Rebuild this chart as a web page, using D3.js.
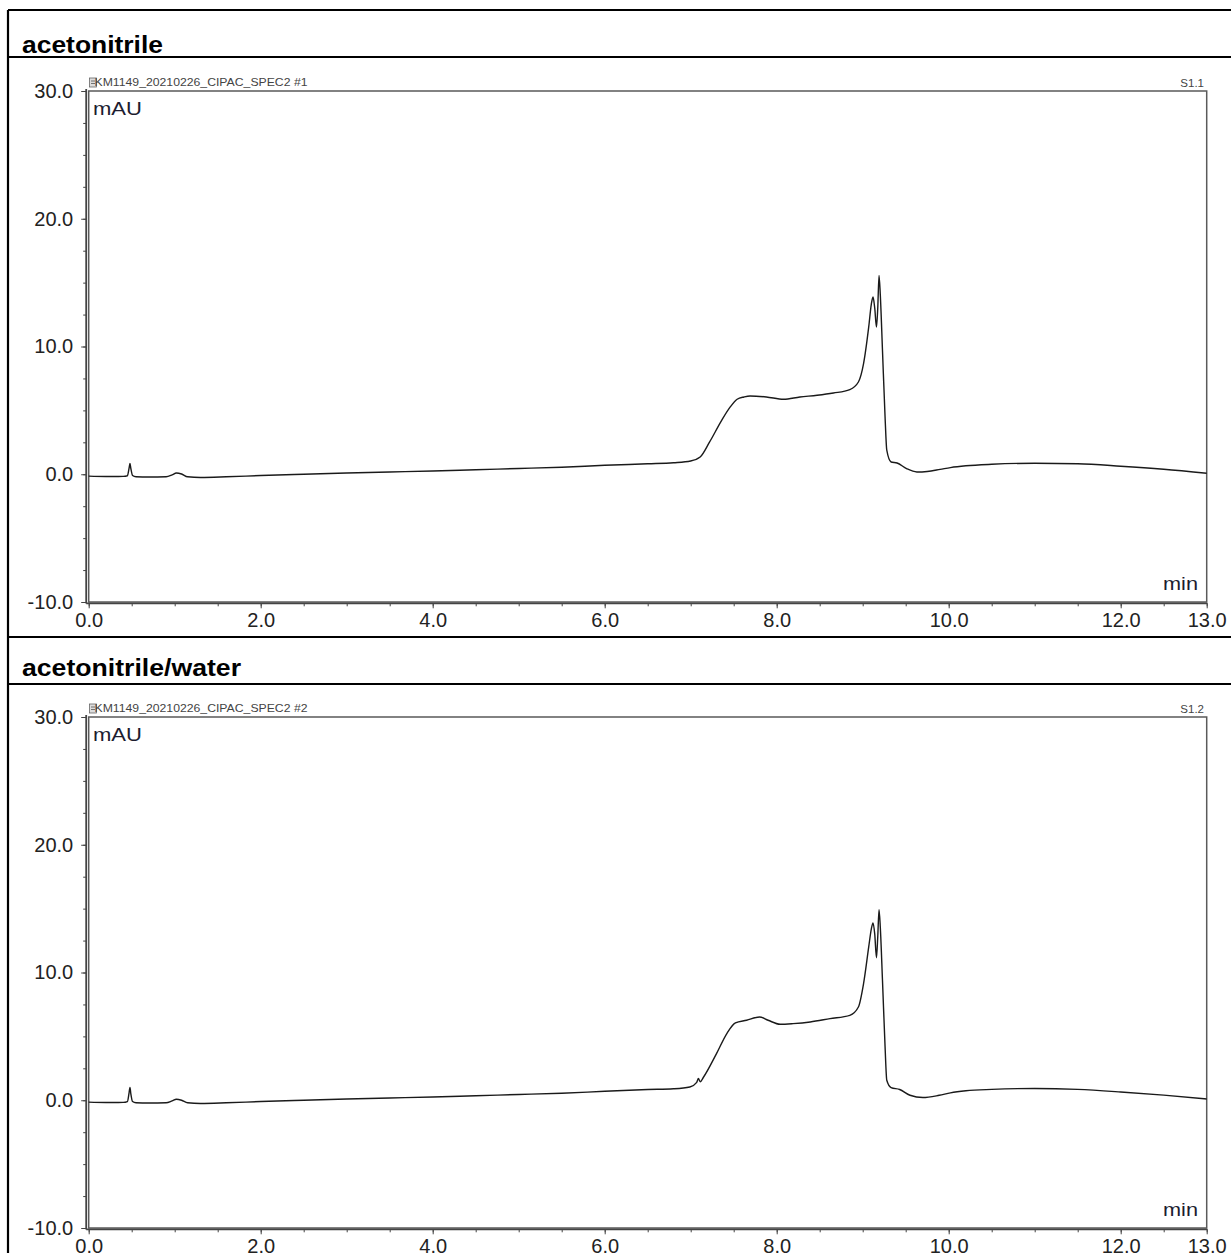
<!DOCTYPE html>
<html>
<head>
<meta charset="utf-8">
<script src="https://cdn.jsdelivr.net/npm/d3@7"></script>
<style>
  html, body { margin: 0; padding: 0; background: #fff; }
  svg { display: block; }
  text { font-family: Arial, "Liberation Sans", sans-serif; }
</style>
</head>
<body>
<svg id="chart" width="1231" height="1256"></svg>
<script>
// Panel titles and chromatogram identifiers
const panelTitles = ["acetonitrile", "acetonitrile/water"];
const runNames = ["KM1149_20210226_CIPAC_SPEC2 #1", "KM1149_20210226_CIPAC_SPEC2 #2"];
const sampleIds = ["S1.1", "S1.2"];

// Axis ticks
const xMajorTicks = [0, 2, 4, 6, 8, 10, 12, 13];
const xMinorTicks = d3.range(0, 13.01, 0.5);
const yMajorTicks = [-10, 0, 10, 20, 30];
const yMinorTicks = d3.range(-10, 30.01, 2.5);

// Trace 1: acetonitrile — [retention time (min), absorbance (mAU)]
const traceAcetonitrile = [
  [0.00,-0.15],[0.20,-0.18],[0.40,-0.17],[0.45,-0.12],[0.47,0.50],[0.48,0.84],[0.49,0.45],[0.51,-0.10],
  [0.55,-0.20],[0.70,-0.22],[0.90,-0.20],[0.97,-0.05],[1.02,0.10],[1.08,0.02],[1.15,-0.20],
  [1.30,-0.25],[1.60,-0.20],[2.00,-0.10],[2.50,0.00],[3.00,0.10],[3.50,0.18],[4.00,0.25],
  [4.50,0.35],[5.00,0.45],[5.50,0.55],[6.00,0.70],[6.50,0.82],[6.80,0.90],[7.00,1.04],
  [7.11,1.35],[7.22,2.53],[7.36,4.22],[7.46,5.27],[7.54,5.87],[7.62,6.05],[7.69,6.13],
  [7.88,6.05],[8.08,5.87],[8.27,6.05],[8.47,6.18],[8.66,6.36],[8.85,6.63],[8.95,7.22],
  [9.01,8.66],[9.07,11.53],[9.10,13.30],[9.12,13.87],[9.14,13.00],[9.16,11.53],[9.175,13.0],
  [9.19,15.57],[9.205,14.0],[9.23,9.70],[9.26,4.50],[9.28,1.88],[9.33,0.96],[9.40,0.88],
  [9.51,0.44],[9.63,0.18],[9.75,0.22],[9.90,0.38],[10.02,0.52],[10.20,0.66],[10.50,0.78],
  [11.00,0.86],[11.50,0.82],[12.00,0.63],[12.50,0.39],[13.00,0.08]
];

// Trace 2: acetonitrile/water
const traceAcetonitrileWater = [
  [0.00,-0.15],[0.20,-0.18],[0.40,-0.17],[0.45,-0.10],[0.47,0.60],[0.48,1.00],[0.49,0.50],[0.51,-0.10],
  [0.55,-0.20],[0.70,-0.22],[0.90,-0.20],[0.97,-0.05],[1.02,0.08],[1.08,0.00],[1.15,-0.20],
  [1.30,-0.25],[1.60,-0.20],[2.00,-0.10],[2.50,0.00],[3.00,0.10],[3.50,0.18],[4.00,0.25],
  [4.50,0.35],[5.00,0.45],[5.50,0.55],[6.00,0.70],[6.50,0.84],[6.80,0.90],[6.99,1.04],
  [7.07,1.40],[7.09,1.70],[7.11,1.45],[7.15,1.82],[7.30,3.65],[7.42,5.22],[7.52,6.05],
  [7.65,6.26],[7.80,6.52],[7.90,6.26],[8.04,5.95],[8.19,6.00],[8.39,6.13],[8.62,6.39],
  [8.85,6.65],[8.95,7.30],[9.01,9.13],[9.07,12.00],[9.10,13.40],[9.12,13.88],[9.14,13.00],
  [9.16,11.16],[9.175,12.8],[9.19,14.92],[9.205,13.5],[9.23,9.39],[9.26,4.20],[9.28,1.56],
  [9.33,0.99],[9.43,0.84],[9.55,0.39],[9.70,0.21],[9.89,0.39],[10.02,0.58],[10.20,0.74],
  [10.50,0.85],[11.00,0.92],[11.50,0.85],[12.00,0.65],[12.50,0.40],[13.00,0.10]
];

const traces = [traceAcetonitrile, traceAcetonitrileWater];

// Tick labels use a plain hyphen for negatives, one decimal place
const fmtTick = d => d.toFixed(1);

const svg = d3.select("#chart");

// Outer table frame
const frame = svg.append("g").attr("stroke", "#000").attr("stroke-width", 2.2);
frame.append("line").attr("x1", 8).attr("x2", 1240).attr("y1", 10).attr("y2", 10);
frame.append("line").attr("x1", 8).attr("x2", 8).attr("y1", 10).attr("y2", 1253);

const panels = [
  { titleLine: 57, titleBase: 52.5, sep: null, top: 91, bottom: 602 },
  { titleLine: 684, titleBase: 676, sep: 637, top: 717, bottom: 1228 }
];

const x0 = 88.7, x1 = 1206.7;

panels.forEach((p, i) => {
  if (p.sep !== null) {
    frame.append("line").attr("x1", 8).attr("x2", 1240).attr("y1", p.sep).attr("y2", p.sep);
  }
  frame.append("line").attr("x1", 8).attr("x2", 1240).attr("y1", p.titleLine).attr("y2", p.titleLine);

  svg.append("text")
    .attr("x", 22).attr("y", p.titleBase)
    .attr("font-size", 23).attr("font-weight", "bold").attr("fill", "#000")
    .attr("textLength", i === 0 ? 141 : 219).attr("lengthAdjust", "spacingAndGlyphs")
    .text(panelTitles[i]);

  const x = d3.scaleLinear().domain([0, 13]).range([x0, x1]);
  const y = d3.scaleLinear().domain([-10, 30]).range([p.bottom, p.top]);

  const g = svg.append("g");

  // Plot frame
  g.append("rect")
    .attr("x", x0).attr("y", p.top)
    .attr("width", x1 - x0).attr("height", p.bottom - p.top)
    .attr("fill", "none").attr("stroke", "#5a5a5a").attr("stroke-width", 1.5);

  // Y axis (offset slightly left of the frame)
  const yAxisX = 86.2;
  const yMinor = g.append("g").attr("transform", `translate(${yAxisX},0)`)
    .call(d3.axisLeft(y).tickValues(yMinorTicks).tickSize(3).tickFormat(""));
  const yMajor = g.append("g").attr("transform", `translate(${yAxisX},0)`)
    .call(d3.axisLeft(y).tickValues(yMajorTicks).tickSize(5).tickPadding(8).tickFormat(fmtTick));
  [yMinor, yMajor].forEach(a => {
    a.select(".domain").remove();
    a.selectAll("line").attr("stroke", "#444").attr("stroke-width", 1);
  });
  yMajor.selectAll("text").attr("font-size", 20).attr("fill", "#222")
    .attr("font-family", "Arial, 'Liberation Sans', sans-serif");
  g.append("line").attr("x1", yAxisX).attr("x2", yAxisX)
    .attr("y1", p.top - 2).attr("y2", p.bottom + 1.5)
    .attr("stroke", "#444").attr("stroke-width", 1.8);

  // X axis
  const xAxisY = p.bottom + 1.3;
  const xMinor = g.append("g").attr("transform", `translate(0,${xAxisY})`)
    .call(d3.axisBottom(x).tickValues(xMinorTicks).tickSize(3).tickFormat(""));
  const xMajor = g.append("g").attr("transform", `translate(0,${xAxisY})`)
    .call(d3.axisBottom(x).tickValues(xMajorTicks).tickSize(5).tickPadding(5).tickFormat(fmtTick));
  [xMinor, xMajor].forEach(a => {
    a.select(".domain").remove();
    a.selectAll("line").attr("stroke", "#444").attr("stroke-width", 1);
  });
  xMajor.selectAll("text").attr("font-size", 20).attr("fill", "#222")
    .attr("font-family", "Arial, 'Liberation Sans', sans-serif");
  g.append("line").attr("x1", yAxisX).attr("x2", x1 + 0.5)
    .attr("y1", xAxisY).attr("y2", xAxisY)
    .attr("stroke", "#444").attr("stroke-width", 1.8);

  // Run name with a small document icon
  const icon = g.append("g").attr("transform", `translate(89.5,${p.top - 13})`);
  icon.append("rect").attr("width", 7).attr("height", 9).attr("fill", "#ddd").attr("stroke", "#666").attr("stroke-width", 0.8);
  icon.append("line").attr("x1", 1.5).attr("x2", 5.5).attr("y1", 3).attr("y2", 3).attr("stroke", "#555").attr("stroke-width", 0.8);
  icon.append("line").attr("x1", 1.5).attr("x2", 5.5).attr("y1", 5.5).attr("y2", 5.5).attr("stroke", "#555").attr("stroke-width", 0.8);
  g.append("text").attr("x", 94.5).attr("y", p.top - 5)
    .attr("font-size", 11).attr("fill", "#444")
    .attr("textLength", 213).attr("lengthAdjust", "spacingAndGlyphs")
    .text(runNames[i]);
  g.append("text").attr("x", 1204).attr("y", p.top - 4.5)
    .attr("font-size", 11.5).attr("fill", "#444").attr("text-anchor", "end")
    .text(sampleIds[i]);

  // Unit labels
  g.append("text").attr("x", 93).attr("y", p.top + 24)
    .attr("font-size", 18).attr("fill", "#1c1c30")
    .attr("textLength", 49).attr("lengthAdjust", "spacingAndGlyphs")
    .text("mAU");
  g.append("text").attr("x", 1163).attr("y", p.bottom - 12)
    .attr("font-size", 18).attr("fill", "#1c1c30")
    .attr("textLength", 35).attr("lengthAdjust", "spacingAndGlyphs")
    .text("min");

  // Chromatogram trace
  const line = d3.line()
    .x(d => x(d[0]))
    .y(d => y(d[1]))
    .curve(d3.curveMonotoneX);
  g.append("path")
    .datum(traces[i])
    .attr("d", line)
    .attr("fill", "none")
    .attr("stroke", "#1a1a1a")
    .attr("stroke-width", 1.4)
    .attr("stroke-linejoin", "round");
});
</script>
</body>
</html>
